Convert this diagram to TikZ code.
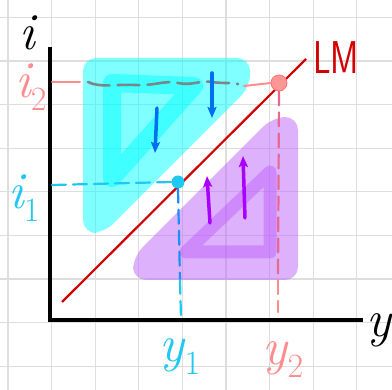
\documentclass[tikz,border=0pt]{standalone}
\usetikzlibrary{arrows.meta}
\definecolor{aqua}{RGB}{0,255,255}
\definecolor{salmon}{RGB}{255,140,140}
\definecolor{skyc}{RGB}{30,200,240}
\definecolor{mypurple}{RGB}{190,100,250}
\definecolor{arrowblue}{RGB}{0,112,240}
\definecolor{arrowpurple}{RGB}{170,0,255}
\definecolor{lmred}{RGB}{210,0,0}
\definecolor{gridgray}{RGB}{222,222,222}
\definecolor{dashgray}{RGB}{120,135,135}
\definecolor{deeppink}{RGB}{230,105,145}
\definecolor{deepblue}{RGB}{30,140,250}
\newcommand{\varlbl}[2]{{\itshape #1}\raisebox{-0.25em}{\fontsize{34}{34}\selectfont #2}}
\begin{document}
\begin{tikzpicture}[x=1pt,y=-1pt,
 gridline/.style={gridgray, line width=1.2},
 axis/.style={black, line width=3.5},
 region/.style={fill opacity=0.5, rounded corners=13},
 loopline/.style={opacity=0.5, line width=#1, line join=round, line cap=round},
 guide/.style={line width=2.2, line cap=round, dash pattern=on 14pt off 7pt},
 flow/.style={line width=3.5, line cap=round, -{Stealth[length=11pt,width=9pt,inset=2pt]}},
 lab/.style={font=\fontsize{52}{52}\selectfont, inner sep=0pt},
]
\useasboundingbox (0,0) rectangle (392,390);
% grid
\foreach \k in {0,...,8} {
  \draw[gridline] ({8+43.6*\k},0) -- ({8+43.6*\k},390);
  \draw[gridline] (0,{17.5+43.6*\k}) -- (392,{17.5+43.6*\k});
}
% regions
\fill[aqua, region] (83,58) -- (250,58) -- (250,87) -- (104,233) -- (83,233) -- cycle;
\fill[mypurple, region] (273,117) -- (298,117) -- (298,280) -- (133,280) -- (133,257) -- cycle;
% loops
\draw[aqua, loopline=18] (112,83) -- (112,178) -- (194,86) -- cycle;
\draw[mypurple, loopline=13] (186,252) -- (270,252) -- (270,172) -- cycle;
% LM line
\coordinate (lm0) at (62,302);
\coordinate (lm1) at (306,59);
\draw[lmred, line width=2.2] (lm0) -- (lm1);
% axes
\coordinate (ytop) at (50,47);
\coordinate (O) at (50,320);
\coordinate (xend) at (363,320);
\draw[axis] (ytop) -- (O) -- (xend);
% equilibrium dots
\node[circle, fill=salmon!90!white, draw=salmon!80!red, line width=0.8, minimum size=16pt, inner sep=0pt] (E2) at (279,83) {};
\node[circle, fill=skyc, minimum size=13pt, inner sep=0pt] (E1) at (178,182) {};
% guide lines i2
\coordinate (a2) at (52,82);
\coordinate (b2) at (80,82);
\coordinate (c2) at (88,82);
\coordinate (d2) at (238,84);
\coordinate (f2) at (244,86);
\draw[salmon, line width=2, line cap=round] (a2) -- (b2);
\draw[dashgray, line width=2.6, line cap=round, dash pattern=on 22pt off 8pt]
  (c2) .. controls (100,88) and (115,84) .. (135,85)
  .. controls (155,86) and (165,80) .. (178,83)
  .. controls (192,86) and (200,80) .. (212,82)
  .. controls (225,84) and (232,82) .. (d2);
\draw[salmon, line width=2, line cap=round] (f2) -- (E2.west);
% guide lines i1
\coordinate (a1) at (52,185);
\draw[skyc, guide] (a1) -- (E1.west);
% y1 vertical
\coordinate (v1) at (180,280);
\coordinate (w1) at (181,318);
\draw[deepblue, guide] (E1.south) -- (v1);
\draw[skyc, guide] (v1) -- (w1);
% y2 vertical
\coordinate (v2) at (278,280);
\coordinate (w2) at (278,312);
\draw[deeppink, guide] (E2.south) -- (v2);
\draw[salmon, guide] (v2) -- (w2);
% arrows
\coordinate (ba1) at (157,108);
\coordinate (bb1) at (155,153);
\coordinate (ba2) at (212,73);
\coordinate (bb2) at (212,118);
\draw[arrowblue, flow] (ba1) -- (bb1);
\draw[arrowblue, flow] (ba2) -- (bb2);
\coordinate (pa1) at (210,223);
\coordinate (pb1) at (207,176);
\coordinate (pa2) at (245,218);
\coordinate (pb2) at (243,156);
\draw[arrowpurple, flow] (pa1) -- (pb1);
\draw[arrowpurple, flow] (pa2) -- (pb2);
% labels
\node[lab, text=black] (ilab) at (27,33) {\itshape i};
\node[lab, text=salmon] (i2lab) at (31,87) {\varlbl{i}{2}};
\node[lab, text=skyc] (i1lab) at (24,198) {\varlbl{i}{1}};
\node[lab, text=skyc] (y1lab) at (180,357) {\varlbl{y}{1}};
\node[lab, text=salmon] (y2lab) at (283,360) {\varlbl{y}{2}};
\node[lab, text=black, anchor=west] (ylab) at (366,330) {\itshape y};
\node[text=lmred, inner sep=0pt, font=\sffamily\fontsize{46}{46}\selectfont, xscale=0.75] (lmlab) at (336,58) {LM};
\end{tikzpicture}
\end{document}
